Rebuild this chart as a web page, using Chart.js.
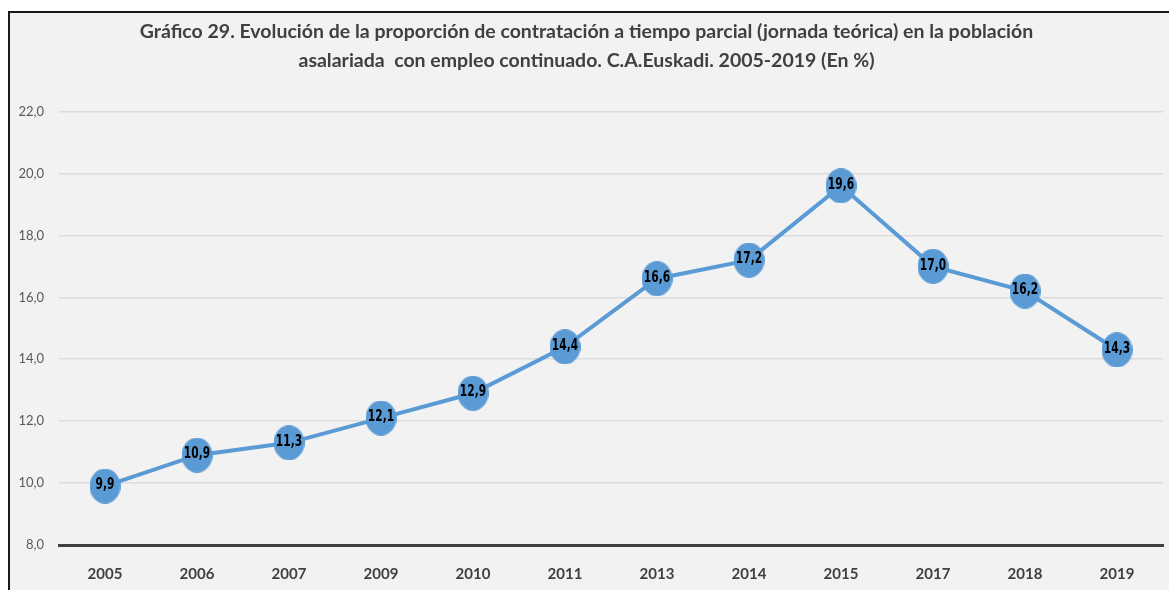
<!DOCTYPE html>
<html>
<head>
<meta charset="utf-8">
<script src="https://cdn.jsdelivr.net/npm/chart.js@4.4.1/dist/chart.umd.min.js"></script>
<style>
  html, body { margin: 0; padding: 0; background: #ffffff; }
  #marco {
    position: absolute; left: 8px; top: 11px;
    width: 1159px; height: 577px;
    border-top: 2px solid #1a1a1a; border-left: 2px solid #1a1a1a;
    background: #f2f2f2;
  }
  canvas { display: block; }
</style>
</head>
<body>
<div id="marco"><canvas id="grafico" width="1159" height="577"></canvas></div>
<script>
// datos del gráfico
const anios = ['2005', '2006', '2007', '2009', '2010', '2011', '2013', '2014', '2015', '2017', '2018', '2019'];
const proporcion = [9.9, 10.9, 11.3, 12.1, 12.9, 14.4, 16.6, 17.2, 19.6, 17.0, 16.2, 14.3];
const titulo = [
  'Gráfico 29. Evolución de la proporción de contratación a tiempo parcial (jornada teórica) en la población',
  'asalariada  con empleo continuado. C.A.Euskadi. 2005-2019 (En %)'
];

const azul = '#5b9bd5';
const coma = v => v.toFixed(1).replace('.', ',');

// marcador elíptico (un poco más alto que ancho, como en el original)
const marcador = document.createElement('canvas');
marcador.width = 31;
marcador.height = 35;
const mctx = marcador.getContext('2d');
mctx.fillStyle = azul;
mctx.beginPath();
mctx.ellipse(15.5, 17.5, 15.5, 17.5, 0, 0, Math.PI * 2);
mctx.fill();

// etiquetas de valor sobre cada punto
const etiquetas = {
  id: 'etiquetas',
  afterDatasetsDraw(chart) {
    const ctx = chart.ctx;
    const meta = chart.getDatasetMeta(0);
    ctx.save();
    ctx.font = 'bold 16px "DejaVu Sans Condensed", "Liberation Sans", sans-serif';
    ctx.fillStyle = '#000000';
    ctx.textAlign = 'center';
    ctx.textBaseline = 'middle';
    meta.data.forEach((p, i) => {
      ctx.save();
      ctx.translate(p.x, p.y - 1);
      ctx.scale(0.74, 1);
      ctx.fillText(coma(proporcion[i]), 0, 0);
      ctx.restore();
    });
    ctx.restore();
  }
};

const ctx = document.getElementById('grafico');
new Chart(ctx, {
  type: 'line',
  data: {
    labels: anios,
    datasets: [{
      data: proporcion,
      borderColor: azul,
      borderWidth: 4,
      backgroundColor: azul,
      pointStyle: marcador,
      pointRadius: 15,
      pointHoverRadius: 15,
      tension: 0,
      fill: false
    }]
  },
  options: {
    responsive: false,
    animation: false,
    layout: { autoPadding: false, padding: { left: 0, right: 6, top: 0, bottom: 8 } },
    plugins: {
      legend: { display: false },
      tooltip: { enabled: false },
      title: {
        display: true,
        text: titulo,
        color: '#404040',
        font: { family: 'Lato', size: 19.5, weight: 'bold', lineHeight: 1.45 },
        padding: { top: 5, bottom: 37 }
      }
    },
    scales: {
      x: {
        offset: true,
        afterFit: scale => { scale.height = 37; },
        grid: { display: false, drawTicks: false },
        border: { display: true, color: '#404040', width: 3 },
        ticks: {
          color: '#404040',
          padding: 20,
          font: { family: 'Lato', size: 15, weight: 'bold' }
        }
      },
      y: {
        min: 8,
        max: 22,
        afterFit: scale => { scale.width = 49; },
        grid: { color: '#dcdcdc', lineWidth: 1.5, drawTicks: false },
        border: { display: false },
        ticks: {
          stepSize: 2,
          padding: 15,
          color: '#595959',
          font: { family: 'Lato', size: 13 },
          callback: v => coma(v)
        }
      }
    }
  },
  plugins: [etiquetas]
});
</script>
</body>
</html>
